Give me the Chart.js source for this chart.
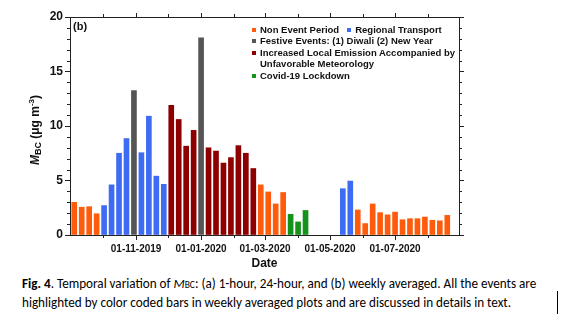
<!DOCTYPE html>
<html>
<head>
<meta charset="utf-8">
<script src="https://cdn.jsdelivr.net/npm/chart.js@4.4.1/dist/chart.umd.min.js"></script>
<style>
  body { margin: 0; background: #fff; width: 567px; height: 323px; overflow: hidden; position: relative; font-family: "Liberation Sans", Arial, sans-serif; color: #111; }
  #chart { position: absolute; left: 0; top: 0; }
  #yTitle { position: absolute; left: 35px; top: 130px; transform: translate(-50%, -50%) rotate(-90deg); white-space: nowrap; font-weight: bold; font-size: 12px; }
  #yTitle .sub { font-size: 9px; position: relative; top: 2px; }
  #yTitle .sup { font-size: 8px; position: relative; top: -5px; }
  #panel { position: absolute; left: 73px; top: 20px; font-weight: bold; font-size: 11px; }
  #legend { position: absolute; left: 252px; top: 24px; font-weight: bold; font-size: 9.5px; line-height: 11.4px; }
  #legend .row { display: flex; white-space: nowrap; }
  #legend .item { display: flex; align-items: flex-start; margin-right: 8px; }
  #legend .box { width: 4px; height: 4px; margin: 4px 4px 0 0; flex: none; }
  #legend .wrap { white-space: normal; width: 200px; }
  #caption { position: absolute; left: 22px; top: 275px; font-family: Carlito, Lato, sans-serif; font-size: 13.15px; line-height: 18px; white-space: nowrap; color: #000; }
  #caption .sc { font-size: 0.72em; }
  #cursor { position: absolute; left: 557px; top: 291px; width: 1px; height: 23px; background: #000; }
</style>
</head>
<body>
<canvas id="chart" width="567" height="272"></canvas>
<div id="yTitle"><i>M</i><span class="sub">BC</span> (μg m<span class="sup">-3</span>)</div>
<div id="panel">(b)</div>
<div id="legend"></div>
<div id="caption"><b>Fig. 4</b>. Temporal variation of <i>M</i><span class="sc">BC</span>: (a) 1-hour, 24-hour, and (b) weekly averaged. All the events are<br>highlighted by color coded bars in weekly averaged plots and are discussed in details in text.</div>
<div id="cursor"></div>
<script>
// axis range and weekly categories
const axisStart = '2019-08-31';
const axisEnd = '2020-08-30';
const firstWeek = '2019-09-04';

// weekly averaged MBC (µg m-3), null = no data
const mbcWeekly = [
  3.0, 2.55, 2.6, 1.95, 2.7, 4.6, 7.5, 8.85, 13.25, 7.55,
  10.9, 5.4, 4.65, 11.9, 10.6, 8.15, 9.6, 18.1, 8.0, 7.7,
  6.6, 7.1, 8.2, 7.5, 6.1, 4.6, 3.95, 2.85, 3.9, 1.9,
  1.2, 2.25, null, null, null, null, 4.25, 4.95, 2.3, 1.05,
  2.85, 2.05, 1.85, 2.1, 1.4, 1.5, 1.5, 1.65, 1.35, 1.3,
  1.8
];

// event class of every week (index into eventNames)
const weekEvent = [
  0, 0, 0, 0, 1, 1, 1, 1, 2, 1,
  1, 1, 1, 3, 3, 3, 3, 2, 3, 3,
  3, 3, 3, 3, 3, 0, 0, 0, 0, 4,
  4, 4, 0, 0, 0, 0, 1, 1, 0, 0,
  0, 0, 0, 0, 0, 0, 0, 0, 0, 0,
  0
];

const eventNames = [
  'Non Event Period',
  'Regional Transport',
  'Festive Events: (1) Diwali (2) New Year',
  'Increased Local Emission Accompanied by Unfavorable Meteorology',
  'Covid-19 Lockdown'
];
const eventColors = ['#ff5b0d', '#3d6cf2', '#555555', '#8e0000', '#14921a'];
const legendRows = [[0, 1], [2], [3], [4]];

const tickLabels = ['01-11-2019', '01-01-2020', '01-03-2020', '01-05-2020', '01-07-2020'];
const minorTickLabels = ['01-10-2019', '01-12-2019', '01-02-2020', '01-04-2020', '01-06-2020', '01-08-2020'];
const yMax = 20;
const yMajorStep = 5;

const axisColor = '#222';
const fontFamily = '"Liberation Sans", Arial, sans-serif';

const DAY = 86400000;
const isoTime = s => { const [y, m, d] = s.split('-').map(Number); return Date.UTC(y, m - 1, d); };
const dmyTime = s => { const [d, m, y] = s.split('-').map(Number); return Date.UTC(y, m - 1, d); };
const t0 = isoTime(axisStart);
const dayOfIso = s => (isoTime(s) - t0) / DAY;
const dayOfDmy = s => (dmyTime(s) - t0) / DAY;

const weekDays = mbcWeekly.map((v, i) => dayOfIso(firstWeek) + 7 * i);

// legend
const legendEl = document.getElementById('legend');
legendRows.forEach(row => {
  const r = document.createElement('div');
  r.className = 'row';
  row.forEach(k => {
    const it = document.createElement('div');
    it.className = 'item';
    const box = document.createElement('span');
    box.className = 'box';
    box.style.background = eventColors[k];
    const txt = document.createElement('span');
    txt.textContent = eventNames[k];
    if (k === 3) txt.className = 'wrap';
    it.appendChild(box);
    it.appendChild(txt);
    r.appendChild(it);
  });
  legendEl.appendChild(r);
});

// shorter minor tick marks on all four sides
const minorTicks = {
  id: 'minorTicks',
  afterDraw(chart) {
    const { ctx, chartArea: a, scales: { x, y } } = chart;
    ctx.save();
    ctx.strokeStyle = axisColor;
    ctx.lineWidth = 1;
    ctx.beginPath();
    for (let v = 0; v <= yMax; v++) {
      if (v % yMajorStep === 0) continue;
      const py = Math.round(y.getPixelForValue(v)) + 0.5;
      ctx.moveTo(a.left - 3, py); ctx.lineTo(a.left, py);
      ctx.moveTo(a.right, py); ctx.lineTo(a.right + 3, py);
    }
    minorTickLabels.forEach(d => {
      const px = Math.round(x.getPixelForValue(dayOfDmy(d))) + 0.5;
      ctx.moveTo(px, a.bottom); ctx.lineTo(px, a.bottom + 3);
      ctx.moveTo(px, a.top - 3); ctx.lineTo(px, a.top);
    });
    ctx.stroke();
    ctx.restore();
  }
};

const xTicks = s => { s.ticks = tickLabels.map(l => ({ value: dayOfDmy(l) })); };
const grid = { drawOnChartArea: false, tickLength: 5, tickColor: axisColor, offset: false };
const border = { color: axisColor, width: 1 };

new Chart(document.getElementById('chart'), {
  type: 'bar',
  data: {
    datasets: [{
      data: mbcWeekly.map((v, i) => ({ x: weekDays[i], y: v })),
      backgroundColor: weekEvent.map(k => eventColors[k]),
      borderWidth: 0,
      barThickness: 5
    }]
  },
  options: {
    responsive: false,
    animation: false,
    layout: { padding: 0 },
    plugins: { legend: { display: false }, tooltip: { enabled: false } },
    scales: {
      x: {
        type: 'linear', position: 'bottom', offset: false,
        min: 0, max: dayOfIso(axisEnd),
        afterBuildTicks: xTicks,
        afterFit: s => { s.height = 37; },
        ticks: {
          callback: (v, i) => tickLabels[i],
          autoSkip: false, maxRotation: 0, padding: 3,
          color: '#111', font: { family: fontFamily, weight: 'bold', size: 10 }
        },
        grid, border,
        title: {
          display: true, text: 'Date', color: '#111',
          font: { family: fontFamily, weight: 'bold', size: 12 },
          padding: { top: 0, bottom: 1 }
        }
      },
      x2: {
        type: 'linear', position: 'top', offset: false,
        min: 0, max: dayOfIso(axisEnd),
        afterBuildTicks: xTicks,
        afterFit: s => { s.height = 17; },
        ticks: { display: false },
        grid: { ...grid, tickLength: 4 }, border
      },
      y: {
        position: 'left', min: 0, max: yMax,
        afterFit: s => { s.width = 70; },
        ticks: {
          stepSize: yMajorStep, padding: 2,
          color: '#111', font: { family: fontFamily, weight: 'bold', size: 12 }
        },
        grid, border
      },
      y2: {
        position: 'right', min: 0, max: yMax,
        afterFit: s => { s.width = 108; },
        ticks: { stepSize: yMajorStep, display: false },
        grid, border
      }
    }
  },
  plugins: [minorTicks]
});
</script>
</body>
</html>
